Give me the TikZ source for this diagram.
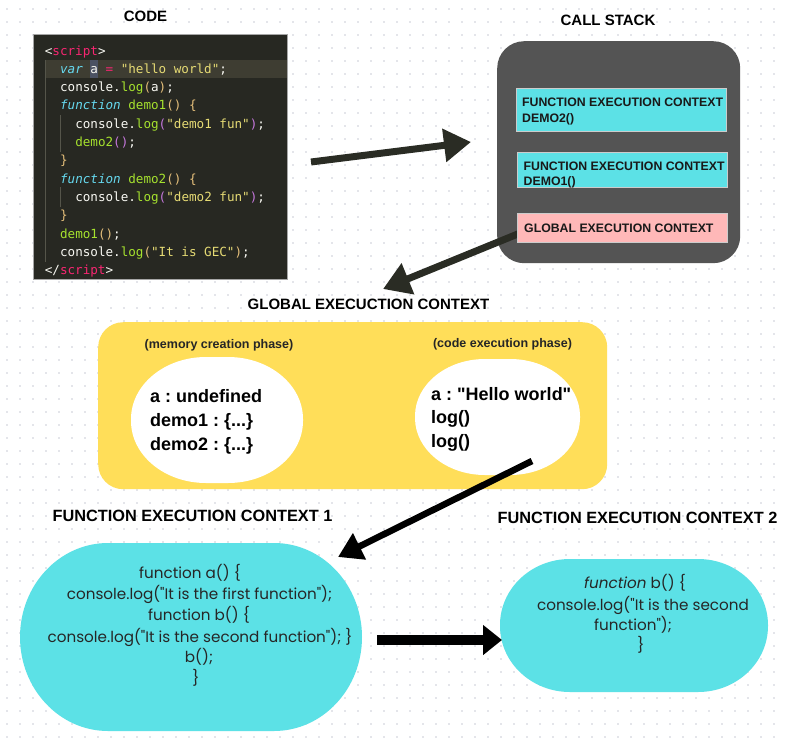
\documentclass[tikz,border=0pt]{standalone}
\usepackage{fontspec}
\setmainfont{Liberation Sans}[Ligatures=TeXOff]
\newfontfamily\codefont{DejaVu Sans Mono}[Ligatures=TeXOff]
\newfontfamily\popfont{Poppins}[Ligatures=TeXOff]
\usetikzlibrary{arrows.meta}
\newcommand\qt{\symbol{34}}
\definecolor{codebg}{HTML}{272822}
\definecolor{hlbg}{HTML}{3E3D32}
\definecolor{selbg}{HTML}{4B5263}
\definecolor{guide}{HTML}{55554A}
\definecolor{cw}{HTML}{F8F8F2}
\definecolor{cp}{HTML}{F92672}
\definecolor{cc}{HTML}{66D9EF}
\definecolor{cg}{HTML}{A6E22E}
\definecolor{cy}{HTML}{E6DB74}
\definecolor{co}{HTML}{E6C07B}
\definecolor{cpu}{HTML}{C678DD}
\definecolor{stackgray}{HTML}{545454}
\definecolor{cyanbox}{HTML}{5CE1E6}
\definecolor{pinkbox}{HTML}{FFB8B8}
\definecolor{yellowbox}{HTML}{FFDE59}
\definecolor{darkarrow}{HTML}{2A2C24}
\definecolor{dotc}{HTML}{C9CCD6}
\newcommand\myblob[7]{\path[#7] (#1+#5,#2) -- (#3-#5,#2)
  arc[start angle=90,end angle=0,x radius=#5pt,y radius=#6pt] -- (#3,#4-#6)
  arc[start angle=0,end angle=-90,x radius=#5pt,y radius=#6pt] -- (#1+#5,#4)
  arc[start angle=-90,end angle=-180,x radius=#5pt,y radius=#6pt] -- (#1,#2+#6)
  arc[start angle=180,end angle=90,x radius=#5pt,y radius=#6pt] -- cycle;}
\frenchspacing
\begin{document}
\begin{tikzpicture}[x=1pt,y=-1pt,
  title/.style={font=\bfseries\fontsize{15}{18}\selectfont, anchor=base, inner sep=0},
  bigtitle/.style={font=\bfseries\fontsize{16.3}{19}\selectfont, anchor=base, inner sep=0},
  code/.style={font=\codefont\fontsize{12.6}{14}\selectfont, anchor=base west, inner sep=0, text=cw},
  stacktext/.style={font=\bfseries\fontsize{12.3}{14}\selectfont, anchor=base west, inner sep=0, text=black!90},
  phase/.style={font=\bfseries\fontsize{12.5}{14}\selectfont, anchor=base, inner sep=0, text=black!85},
  mem/.style={font=\bfseries\fontsize{18}{22}\selectfont, anchor=base west, inner sep=0},
  pop/.style={font=\popfont\fontsize{15.2}{18}\selectfont, anchor=base, inner sep=0, text=black!85},
  darkarr/.style={draw=darkarrow, line width=7pt, -{Triangle[length=27pt,width=32pt]}},
  blackarr/.style={draw=black, line width=6.5pt, -{Triangle[length=24pt,width=28pt]}},
  stackbox/.style={anchor=north west, inner sep=0, draw=black!20, line width=0.6pt}
]
\fill[white] (0,0) rectangle (785,742);
\useasboundingbox (0,0) rectangle (785,742);
\foreach \i in {0,...,59} \foreach \j in {0,...,56} \fill[dotc] (7+13*\i,9+13*\j) circle[radius=0.9pt];

% ---------- CODE ----------
\node[title] (codeT) at (145.5,21) {CODE};
\node[anchor=north west, draw=gray!70, fill=codebg, line width=1pt, minimum width=254pt, minimum height=245pt, inner sep=0] (codebox) at (33,34) {};
\fill[hlbg] (45,60) rectangle (287,78);
\fill[selbg] (90.3,60) rectangle (97.9,78);
\draw[guide, line width=0.8pt] (45,60) -- (45,262);
\draw[guide, line width=0.8pt] (60,115) -- (60,152);
\draw[guide, line width=0.8pt] (60,187) -- (60,207);
\node[code] (l0) at (44.7,55.0) {<\textcolor{cp}{script}>};
\node[code] (l1) at (59.9,73.3) {\textcolor{cc}{\itshape var} a \textcolor{cp}{=} \textcolor{cy}{\qt hello world\qt};};
\node[code] (l2) at (59.9,91.6) {console.\textcolor{cg}{log}\textcolor{co}{(}a\textcolor{co}{)};};
\node[code] (l3) at (59.9,109.9) {\textcolor{cc}{\itshape function} \textcolor{cg}{demo1}\textcolor{co}{() \{}};
\node[code] (l4) at (75.1,128.2) {console.\textcolor{cg}{log}\textcolor{cpu}{(}\textcolor{cy}{\qt demo1 fun\qt}\textcolor{cpu}{)};};
\node[code] (l5) at (75.1,146.5) {\textcolor{cg}{demo2}\textcolor{cpu}{()};};
\node[code] (l6) at (59.9,164.8) {\textcolor{co}{\}}};
\node[code] (l7) at (59.9,183.1) {\textcolor{cc}{\itshape function} \textcolor{cg}{demo2}\textcolor{co}{() \{}};
\node[code] (l8) at (75.1,201.4) {console.\textcolor{cg}{log}\textcolor{cpu}{(}\textcolor{cy}{\qt demo2 fun\qt}\textcolor{cpu}{)};};
\node[code] (l9) at (59.9,219.7) {\textcolor{co}{\}}};
\node[code] (l10) at (59.9,238.0) {\textcolor{cg}{demo1}\textcolor{co}{()};};
\node[code] (l11) at (59.9,256.3) {console.\textcolor{cg}{log}\textcolor{co}{(}\textcolor{cy}{\qt It is GEC\qt}\textcolor{co}{)};};
\node[code] (l12) at (44.7,274.6) {</\textcolor{cp}{script}>};

% ---------- CALL STACK ----------
\node[title] (stackT) at (608,25) {CALL STACK};
\node[anchor=north west, fill=stackgray, rounded corners=27pt, minimum width=243pt, minimum height=222pt, inner sep=0] (stack) at (497,41) {};
\node[stackbox, fill=cyanbox, minimum width=210pt, minimum height=43pt] (fec2box) at (516,88) {};
\node[stacktext] (fec2a) at (522,106.5) {FUNCTION EXECUTION CONTEXT};
\node[stacktext] (fec2b) at (522,122.5) {DEMO2()};
\node[stackbox, fill=cyanbox, minimum width=210pt, minimum height=35pt] (fec1box) at (517,152) {};
\node[stacktext] (fec1a) at (523.5,170) {FUNCTION EXECUTION CONTEXT};
\node[stacktext] (fec1b) at (523.5,185) {DEMO1()};
\coordinate (a2s) at (530,229);
\coordinate (a2e) at (383,289);
\draw[darkarr] (a2s) -- (a2e);
\node[stackbox, fill=pinkbox, minimum width=210pt, minimum height=29pt] (gecbox) at (517,213) {};
\node[stacktext] (geca) at (524,232.5) {GLOBAL EXECUTION CONTEXT};

% arrow code -> stack
\coordinate (a1s) at (311,162);
\coordinate (a1e) at (471,142);
\draw[darkarr] (a1s) -- (a1e);

% ---------- GLOBAL EXECUTION CONTEXT ----------
\node[title] (gecT) at (368.5,309) {GLOBAL EXECUCTION CONTEXT};
\node[anchor=north west, fill=yellowbox, rounded corners=25pt, minimum width=509pt, minimum height=167pt, inner sep=0] (gec) at (98,322) {};
\node[phase] (memT) at (219,348) {(memory creation phase)};
\node[phase] (exeT) at (502.5,347) {(code execution phase)};
\myblob{131}{357}{303}{483}{75}{62}{fill=white}
\myblob{415}{359}{580}{475}{70}{57}{fill=white}
\node[mem] (m1) at (150,402) {a : undefined};
\node[mem] (m2) at (150,426) {demo1 : \{...\}};
\node[mem] (m3) at (150,450) {demo2 : \{...\}};
\node[mem] (e1) at (431,400) {a : \qt Hello world\qt};
\node[mem] (e2) at (431,423.5) {log()};
\node[mem] (e3) at (431,447) {log()};

% ---------- FEC 1 ----------
\node[bigtitle] (f1T) at (192.5,521) {FUNCTION EXECUTION CONTEXT 1};
\myblob{20}{543}{362}{731}{88}{94}{fill=cyanbox}
\node[pop] (t1) at (190,578) {function a() \{};
\node[pop] (t2) at (199.5,599) {console.log(\qt It is the first function\qt);};
\node[pop] (t3) at (199,620) {function b() \{};
\node[pop] (t4) at (200,642) {console.log(\qt It is the second function\qt); \}};
\node[pop] (t5) at (199,662) {b();};
\node[pop] (t6) at (196,683) {\}};

% ---------- FEC 2 ----------
\node[bigtitle] (f2T) at (637.5,523) {FUNCTION EXECUTION CONTEXT 2};
\myblob{500}{559}{768}{692}{70}{66}{fill=cyanbox}
\node[pop] (u1) at (635,588) {\itshape function\upshape{} b() \{};
\node[pop] (u2) at (643,610) {console.log(\qt It is the second};
\node[pop] (u3) at (633,630) {function\qt);};
\node[pop] (u4) at (641,650) {\}};

% ---------- arrows ----------
\coordinate (a3s) at (532,461);
\coordinate (a3e) at (338,557);
\draw[blackarr] (a3s) -- (a3e);
\coordinate (a4s) at (377,640);
\coordinate (a4e) at (502,640);
\draw[draw=black, line width=10pt, -{Triangle[length=19pt,width=29pt]}] (a4s) -- (a4e);
\end{tikzpicture}
\end{document}
